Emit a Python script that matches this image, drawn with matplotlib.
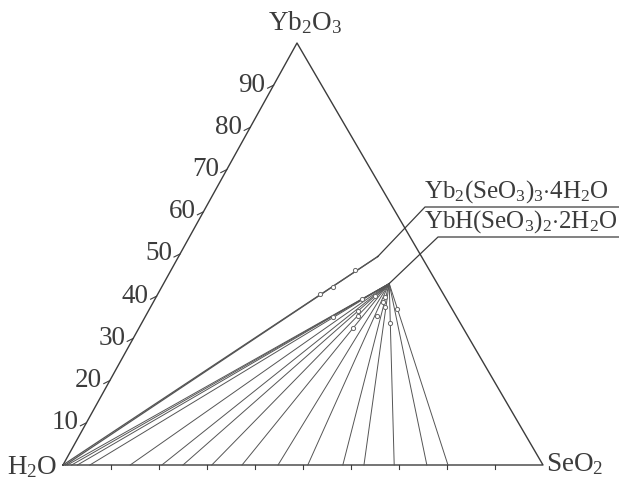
import matplotlib
matplotlib.use('Agg')
import matplotlib.pyplot as plt
import numpy as np

plt.rcParams['font.family'] = ['Liberation Serif', 'DejaVu Serif']
plt.rcParams['mathtext.fontset'] = 'custom'
plt.rcParams['mathtext.rm'] = 'Liberation Serif'
plt.rcParams['mathtext.it'] = 'Liberation Serif:italic'

# compositions in mass %: (Yb2O3, SeO2), rest is H2O
solid_a = (49.4, 41.5)   # Yb2(SeO3)3.4H2O
solid_b = (43.0, 47.0)   # YbH(SeO3)2.2H2O

# liquid phases on the H2O-SeO2 side (SeO2 %)
liq_a = [0.0, 0.5]
liq_b = [0.9, 1.8, 3.0, 5.6, 14.0, 20.6, 25.0, 31.0, 37.3, 44.8,
         51.0, 58.3, 62.7, 69.0, 75.8, 80.2]

# wet residues
res_a_yb = [40.5, 42.2, 46.2]
res_a_se = [33.8, 35.7, 38.3]
res_b_yb = [39.3, 40.0, 39.8, 37.4, 35.3, 37.0, 35.3, 35.1, 32.5, 36.5, 33.6, 38.6]
res_b_se = [43.1, 45.5, 47.7, 48.8, 48.2, 51.6, 44.3, 39.1, 44.6, 43.7, 51.7, 47.8]

ticks = [10, 20, 30, 40, 50, 60, 70, 80, 90]

# triangle corners in figure pixels
H = np.array([63.0, 466.0])
S = np.array([543.0, 466.0])
Y = np.array([297.0, 44.0])


def tern(yb, se):
    yb = np.asarray(yb) / 100.0
    se = np.asarray(se) / 100.0
    x = H[0] + se * (S[0] - H[0]) + yb * (Y[0] - H[0])
    y = H[1] + se * (S[1] - H[1]) + yb * (Y[1] - H[1])
    return x, y


col = '#3c3c3c'
lcol = '#555555'

fig = plt.figure(figsize=(6.19, 4.85), dpi=100)
ax = fig.add_axes([0, 0, 1, 1])
ax.set_xlim(0, 619)
ax.set_ylim(485, 0)
ax.axis('off')

# frame
ax.plot([H[0], S[0], Y[0], H[0]], [H[1], S[1], Y[1], H[1]], color=col, lw=1.0)

# tie lines
for s in liq_a:
    x0, y0 = tern(0, s)
    x1, y1 = tern(*solid_a)
    ax.plot([x0, x1], [y0, y1], color=lcol, lw=0.9)
for s in liq_b:
    x0, y0 = tern(0, s)
    x1, y1 = tern(*solid_b)
    ax.plot([x0, x1], [y0, y1], color=lcol, lw=0.7)

# wet residues
xr, yr = tern(res_a_yb, res_a_se)
ax.plot(xr, yr, 'o', ms=3, mfc='white', mec='#666666', mew=0.7)
xr, yr = tern(res_b_yb, res_b_se)
ax.plot(xr, yr, 'o', ms=3, mfc='white', mec='#666666', mew=0.7)

# axis ticks
for t in ticks:
    x, y = tern(t, 0)
    ax.plot([x, x - 6], [y, y + 3], color=col, lw=0.8)
    ax.text(x - 8, y - 1, str(t), ha='right', va='center', fontsize=19.5, color=col)
    xb, yb = tern(0, t)
    ax.plot([xb, xb], [yb, yb + 4], color=col, lw=0.8)

# corner labels
ax.text(305, 23, r'$\mathrm{Yb_2O_3}$', ha='center', va='center', fontsize=19.5, color=col)
ax.text(7, 467, r'$\mathrm{H_2O}$', ha='left', va='center', fontsize=19.5, color=col)
ax.text(546, 464, r'$\mathrm{SeO_2}$', ha='left', va='center', fontsize=19.5, color=col)

# compound labels with leader lines
xa, ya = tern(*solid_a)
ax.plot([xa, 425, 619], [ya, 208, 208], color=col, lw=0.9)
xb_, yb_ = tern(*solid_b)
ax.plot([xb_, 438, 619], [yb_, 238, 238], color=col, lw=0.9)
ax.text(424, 192, r'$\mathrm{Yb_2(SeO_3)_3{\cdot}4H_2O}$', ha='left', va='center',
        fontsize=18, color=col)
ax.text(424, 222, r'$\mathrm{YbH(SeO_3)_2{\cdot}2H_2O}$', ha='left', va='center',
        fontsize=18, color=col)

plt.savefig('out.png', dpi=100)
